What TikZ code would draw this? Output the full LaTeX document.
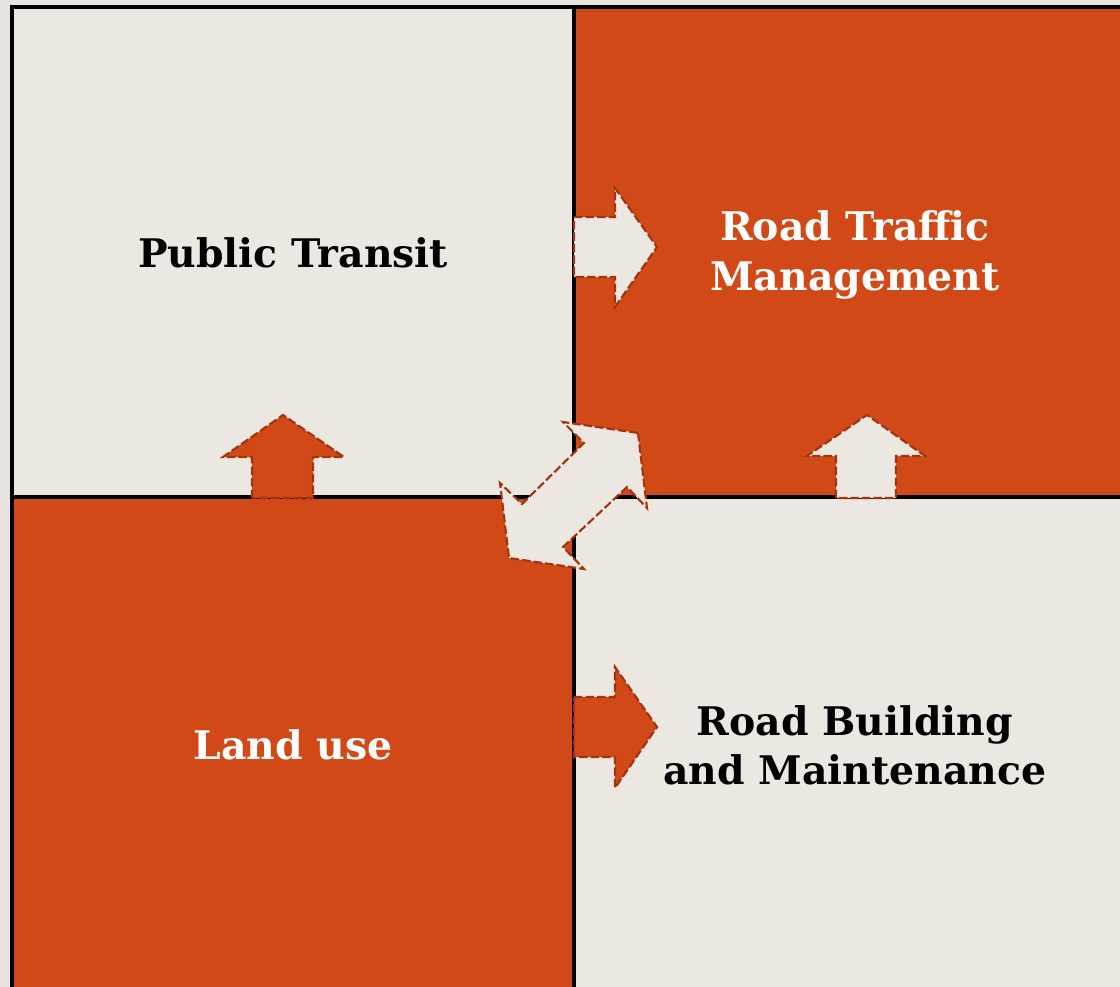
\documentclass[tikz,border=0pt]{standalone}
\usepackage{fontspec}
\setmainfont{DejaVu Serif}
\definecolor{rust}{RGB}{209,73,23}
\definecolor{sand}{RGB}{236,231,225}
\definecolor{paper}{RGB}{231,227,222}
\definecolor{rustdark}{RGB}{160,52,14}
\begin{document}
\begin{tikzpicture}[x=0.025cm, y=-0.025cm,
    field/.style={draw=black, line width=2.2pt},
    blockarrow/.style={draw=rustdark, line width=1.5pt, dash pattern=on 6pt off 2.2pt, line join=miter},
    fieldtext/.style={font=\fontsize{28}{35}\selectfont\bfseries, align=center}]
  \useasboundingbox (0,0) rectangle (1120,987);
  \fill[paper] (0,0) rectangle (1120,987);

  \begin{scope}
    \clip (0,0) rectangle (1120,987);
    % Felder
    \draw[field, fill=sand] (12,7) rectangle (574,497);
    \draw[field, fill=rust] (574,7) rectangle (1140,497);
    \draw[field, fill=rust] (12,497) rectangle (574,1010);
    \draw[field, fill=sand] (574,497) rectangle (1140,1010);
  \end{scope}

  % Pfeile nach rechts
  \draw[blockarrow, fill=sand] (574,217) -- (615,217) -- (615,188) -- (657,247)
    -- (615,307) -- (615,277) -- (574,277) -- cycle;
  \draw[blockarrow, fill=rust] (574,697) -- (615,697) -- (615,667) -- (657,727)
    -- (615,788) -- (615,757) -- (574,757) -- cycle;

  % Pfeile nach oben
  \draw[blockarrow, fill=rust] (252,498) -- (252,457) -- (223,457) -- (283,415)
    -- (344,457) -- (313,457) -- (313,498) -- cycle;
  \draw[blockarrow, fill=sand] (836,498) -- (836,456) -- (807,456) -- (867,415)
    -- (925,456) -- (896,456) -- (896,498) -- cycle;

  % Doppelpfeil in der Mitte
  \draw[blockarrow, fill=sand] (638,433) -- (647,508) -- (627,487) -- (563,547)
    -- (584,569) -- (509,558) -- (500,483) -- (522,504) -- (584,443)
    -- (563,422) -- cycle;

  % Texte
  \node[fieldtext, text=black] (transit) at (293,253) {Public Transit};
  \node[fieldtext, text=white] (traffic) at (855,255) {Road Traffic\\Management};
  \node[fieldtext, text=white] (landuse) at (293,745) {Land use};
  \node[fieldtext, text=black] (building) at (855,745) {Road Building\\and Maintenance};
\end{tikzpicture}
\end{document}
